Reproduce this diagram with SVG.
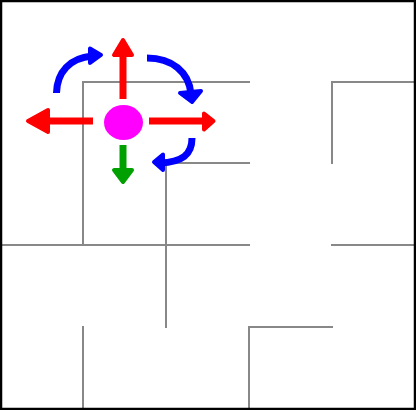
<svg xmlns="http://www.w3.org/2000/svg" width="416" height="410" viewBox="0 0 416 410">
<style>
.wall{stroke:#888;stroke-width:2;stroke-linecap:square;fill:none}
.shaft{fill:none;stroke-width:7;stroke-linecap:butt}
.head{stroke-width:4;stroke-linejoin:round}
.red{stroke:#ff0000;fill:#ff0000}
.green{stroke:#00a000;fill:#00a000}
.blue{stroke:#0000ff;fill:#0000ff}
.shaft.red,.shaft.green,.shaft.blue{fill:none}
</style>
<rect x="0" y="0" width="416" height="410" fill="#fff"/>
<g id="maze">
<path class="wall" d="M83,82 H249 M332,82 H414 M83,82 V245 M166,163 H249 M166,163 V327 M332,82 V163 M2,245 H249 M332,245 H414 M83,327 V408 M249,327 V408 M249,327 H332"/>
<rect x="1" y="1" width="414" height="408" fill="none" stroke="#000" stroke-width="2.5"/>
</g>
<g id="agent">
<ellipse cx="123.5" cy="122.5" rx="19.5" ry="17.5" fill="#ff00ff"/>
</g>
<g id="connectors">
<path class="shaft red" d="M123,99 V52"/>
<polygon class="head red" points="123,40 114,55 132,55"/>
<path class="shaft red" d="M93,121 H44"/>
<polygon class="head red" points="28,121 48,110 48,132"/>
<path class="shaft red" d="M149,121 H206"/>
<polygon class="head red" points="213.5,121 204,113.5 204,129.5"/>
<path class="shaft green" d="M123,145 V172"/>
<polygon class="head green" points="114,170 132,170 123,182"/>
<path class="shaft blue" d="M56.5,93 C57,72 70,58 92,56"/>
<polygon class="head blue" points="101,55 90,48.5 90,63"/>
<path class="shaft blue" d="M147,58 C172,58 189,72 191,94"/>
<polygon class="head blue" points="192,102 180,93 201,91"/>
<path class="shaft blue" d="M192,138 C192,155 182,162 160,163"/>
<polygon class="head blue" points="154,162 163,154.5 163,170"/>
</g>
</svg>
